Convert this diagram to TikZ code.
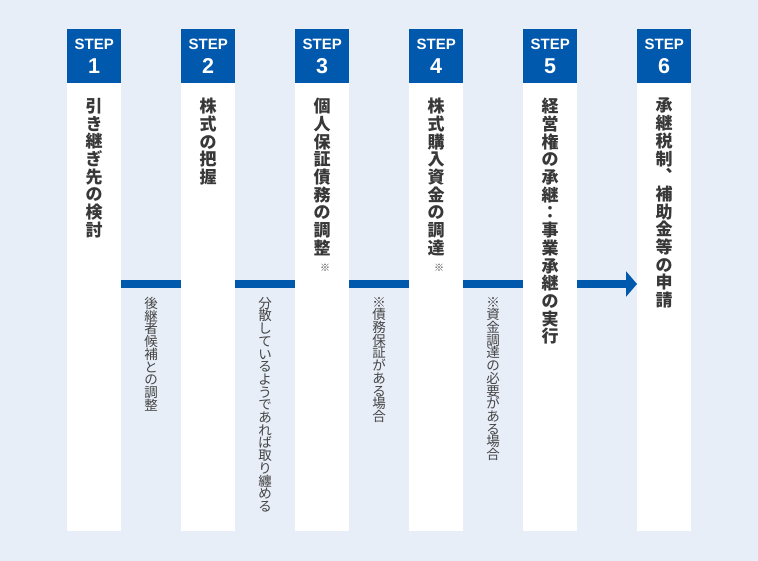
\documentclass[tikz,border=0pt]{standalone}
\usepackage{fontspec}
\setmainfont{Liberation Sans}
\newfontfamily\jp{Noto Sans CJK JP}
\newfontfamily\jpv{Noto Sans CJK JP}[RawFeature=+vert]
\usetikzlibrary{arrows.meta}
\definecolor{bgc}{HTML}{E8EEF8}
\definecolor{stepblue}{HTML}{0059AC}
\definecolor{titlec}{HTML}{383838}
\definecolor{notec}{HTML}{454545}
\tikzset{
  header/.style={fill=stepblue, draw=none, minimum width=54pt, minimum height=54pt, inner sep=0pt, anchor=north west},
  column/.style={fill=white, draw=none, minimum width=54pt, minimum height=448pt, inner sep=0pt, anchor=north west},
  steptxt/.style={text=white, font={\fontsize{15}{15}\selectfont\bfseries}, inner sep=0pt, anchor=base},
  numtxt/.style={text=white, font={\fontsize{21.5}{21.5}\selectfont\bfseries}, inner sep=0pt, anchor=base},
  vtitle/.style={text=titlec, font={\jp\fontsize{17}{17.7}\selectfont\bfseries}, align=center, inner sep=0pt, anchor=north},
  vnote/.style={text=notec, font={\jp\fontsize{13.5}{12.7}\selectfont}, align=center, inner sep=0pt, anchor=north},
  asterism/.style={text=notec, font={\jp\fontsize{10}{10}\selectfont}, inner sep=0pt},
  conn/.style={draw=stepblue, line width=8pt},
}
\begin{document}
\begin{tikzpicture}[x=1pt,y=-1pt]
\useasboundingbox (0,0) rectangle (758,561);
\fill[bgc] (0,0) rectangle (758,561);
\coordinate (lineY) at (0,284);
\coordinate (noteY) at (0,297);
% headers and columns
\node[header] (h1) at (67,29) {};
\node[header] (h2) at (181,29) {};
\node[header] (h3) at (295,29) {};
\node[header] (h4) at (409,29) {};
\node[header] (h5) at (523,29) {};
\node[header] (h6) at (637,29) {};
\node[column] (s1) at (67,83) {};
\node[column] (s2) at (181,83) {};
\node[column] (s3) at (295,83) {};
\node[column] (s4) at (409,83) {};
\node[column] (s5) at (523,83) {};
\node[column] (s6) at (637,83) {};
% header labels
\foreach \i in {1,...,6}{
  \node[steptxt] (st\i) at ([yshift=-21pt]h\i.north) {STEP};
  \node[numtxt] (n\i) at ([yshift=-45pt]h\i.north) {\i};
}
% titles
\node[vtitle] (t1) at ([yshift=-15pt]s1.north) {引\\き\\継\\ぎ\\先\\の\\検\\討};
\node[vtitle] (t2) at ([yshift=-15pt]s2.north) {株\\式\\の\\把\\握};
\node[vtitle] (t3) at ([yshift=-15pt]s3.north) {個\\人\\保\\証\\債\\務\\の\\調\\整};
\node[vtitle] (t4) at ([yshift=-15pt]s4.north) {株\\式\\購\\入\\資\\金\\の\\調\\達};
\node[vtitle] (t5) at ([yshift=-15pt]s5.north) {経\\営\\権\\の\\承\\継\\：\\事\\業\\承\\継\\の\\実\\行};
\node[vtitle] (t6) at ([yshift=-15pt]s6.north) {承\\継\\税\\制\\{\jpv\bfseries 、}\\補\\助\\金\\等\\の\\申\\請};
\node[asterism] (a3) at (325,268) {※};
\node[asterism] (a4) at (439,268) {※};
% connectors
\draw[conn] (s1.east |- lineY) -- (s2.west |- lineY);
\draw[conn] (s2.east |- lineY) -- (s3.west |- lineY);
\draw[conn] (s3.east |- lineY) -- (s4.west |- lineY);
\draw[conn] (s4.east |- lineY) -- (s5.west |- lineY);
\draw[conn, -{Triangle[length=11pt, width=25pt]}] (s5.east |- lineY) -- (s6.west |- lineY);
% gap centres
\path (s1.east) -- (s2.west) coordinate[pos=0.5] (m1);
\path (s2.east) -- (s3.west) coordinate[pos=0.5] (m2);
\path (s3.east) -- (s4.west) coordinate[pos=0.5] (m3);
\path (s4.east) -- (s5.west) coordinate[pos=0.5] (m4);
% notes
\node[vnote] (g1) at (m1 |- noteY) {後\\継\\者\\候\\補\\と\\の\\調\\整};
\node[vnote] (g2) at (m2 |- noteY) {分\\散\\し\\て\\い\\る\\よ\\う\\で\\あ\\れ\\ば\\取\\り\\纏\\め\\る};
\node[vnote] (g3) at (m3 |- noteY) {※\\債\\務\\保\\証\\が\\あ\\る\\場\\合};
\node[vnote] (g4) at (m4 |- noteY) {※\\資\\金\\調\\達\\の\\必\\要\\が\\あ\\る\\場\\合};
\end{tikzpicture}
\end{document}
